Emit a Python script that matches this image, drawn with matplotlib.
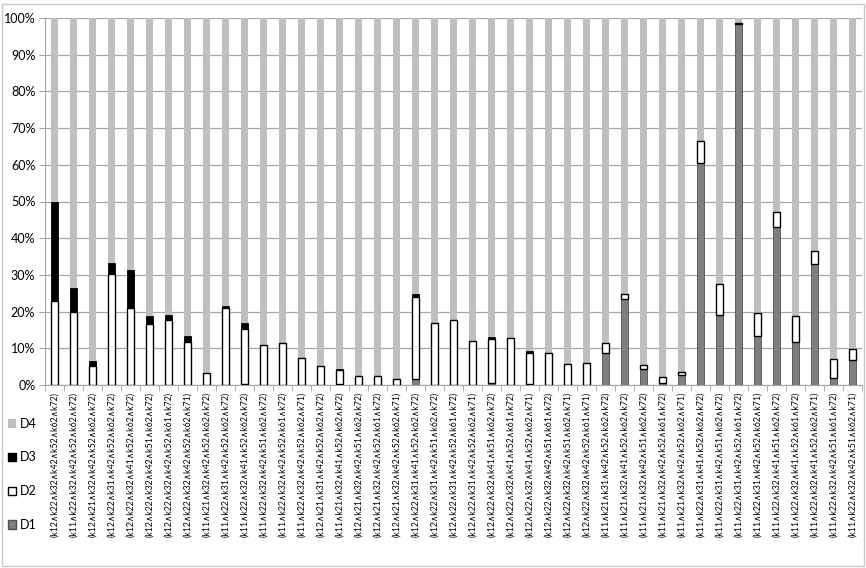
import matplotlib
matplotlib.use("Agg")
import matplotlib.pyplot as plt
import numpy as np
from matplotlib.patches import Rectangle, Patch

categories = [
    "(k12∧k22∧k32∧k42∧k52∧k62∧k72)",
    "(k11∧k22∧k32∧k42∧k52∧k62∧k72)",
    "(k12∧k21∧k32∧k42∧k52∧k62∧k72)",
    "(k12∧k22∧k31∧k42∧k52∧k62∧k72)",
    "(k12∧k22∧k32∧k41∧k52∧k62∧k72)",
    "(k12∧k22∧k32∧k42∧k51∧k62∧k72)",
    "(k12∧k22∧k32∧k42∧k52∧k61∧k72)",
    "(k12∧k22∧k32∧k42∧k52∧k62∧k71)",
    "(k11∧k21∧k32∧k42∧k52∧k62∧k72)",
    "(k11∧k22∧k31∧k42∧k52∧k62∧k72)",
    "(k11∧k22∧k32∧k41∧k52∧k62∧k72)",
    "(k11∧k22∧k32∧k42∧k51∧k62∧k72)",
    "(k11∧k22∧k32∧k42∧k52∧k61∧k72)",
    "(k11∧k22∧k32∧k42∧k52∧k62∧k71)",
    "(k12∧k21∧k31∧k42∧k52∧k62∧k72)",
    "(k11∧k21∧k32∧k41∧k52∧k62∧k72)",
    "(k12∧k21∧k32∧k42∧k51∧k62∧k72)",
    "(k12∧k21∧k32∧k42∧k52∧k61∧k72)",
    "(k12∧k21∧k32∧k42∧k52∧k62∧k71)",
    "(k12∧k22∧k31∧k41∧k52∧k62∧k72)",
    "(k12∧k22∧k31∧k42∧k51∧k62∧k72)",
    "(k12∧k22∧k31∧k42∧k52∧k61∧k72)",
    "(k12∧k22∧k31∧k42∧k52∧k62∧k71)",
    "(k12∧k22∧k32∧k41∧k51∧k62∧k72)",
    "(k12∧k22∧k32∧k41∧k52∧k61∧k72)",
    "(k12∧k22∧k32∧k41∧k52∧k62∧k71)",
    "(k12∧k22∧k32∧k42∧k51∧k61∧k72)",
    "(k12∧k22∧k32∧k42∧k51∧k62∧k71)",
    "(k12∧k22∧k32∧k42∧k52∧k61∧k71)",
    "(k11∧k21∧k31∧k42∧k52∧k62∧k72)",
    "(k11∧k21∧k32∧k41∧k52∧k62∧k72)",
    "(k11∧k21∧k32∧k42∧k51∧k62∧k72)",
    "(k11∧k21∧k32∧k42∧k52∧k61∧k72)",
    "(k11∧k21∧k32∧k42∧k52∧k62∧k71)",
    "(k11∧k22∧k31∧k41∧k52∧k62∧k72)",
    "(k11∧k22∧k31∧k42∧k51∧k62∧k72)",
    "(k11∧k22∧k31∧k42∧k52∧k61∧k72)",
    "(k11∧k22∧k31∧k42∧k52∧k62∧k71)",
    "(k11∧k22∧k32∧k41∧k51∧k62∧k72)",
    "(k11∧k22∧k32∧k41∧k52∧k61∧k72)",
    "(k11∧k22∧k32∧k41∧k52∧k62∧k71)",
    "(k11∧k22∧k32∧k42∧k51∧k61∧k72)",
    "(k11∧k22∧k32∧k42∧k51∧k62∧k71)",
]

# percentages
D1 = [0, 0, 0, 0, 0, 0, 0, 0, 0, 0, 0.3, 0, 0, 0,
      0, 0.2, 0, 0, 0, 1.7, 0, 0, 0, 0.6, 0, 0.4, 0, 0, 0,
      8.8, 23.3, 4.3, 0.6, 2.7, 60.6, 19.0, 98.5, 13.3, 43.0, 11.8, 32.9, 2.0, 6.7]
D2 = [23.0, 20.0, 5.1, 30.3, 21.0, 16.5, 17.8, 11.6, 3.2, 21.0, 14.9, 10.8, 11.5, 7.4,
      5.2, 3.8, 2.4, 2.4, 1.5, 22.3, 16.9, 17.8, 11.9, 12.0, 12.7, 8.4, 8.8, 5.6, 6.1,
      2.7, 1.5, 1.2, 1.6, 0.8, 5.9, 8.5, 0.2, 6.3, 4.2, 6.9, 3.5, 5.1, 3.2]
D3 = [27.0, 6.5, 1.4, 2.9, 10.4, 2.3, 1.2, 1.7, 0, 0.5, 1.8, 0.1, 0, 0,
      0, 0.4, 0, 0, 0, 0.9, 0, 0, 0, 0.4, 0.2, 0.4, 0, 0, 0,
      0, 0, 0, 0, 0, 0, 0, 0, 0, 0, 0, 0, 0, 0]
D4 = [100 - a - b - c for a, b, c in zip(D1, D2, D3)]
yticks = [0, 10, 20, 30, 40, 50, 60, 70, 80, 90, 100]
ytick_labels = [f"{v}%" for v in yticks]

plt.rcParams['font.family'] = ['Lato', 'DejaVu Sans']

fig = plt.figure(figsize=(8.66, 5.68), dpi=100)
ax = fig.add_axes([45 / 866, (568 - 385) / 568, (862 - 45) / 866, (385 - 18) / 568])

x = np.arange(len(categories))
w = 0.42
d1 = np.array(D1); d2 = np.array(D2); d3 = np.array(D3); d4 = np.array(D4)
ax.bar(x, d1, w, color='#7f7f7f', edgecolor='#505050', linewidth=0.6, zorder=3)
ax.bar(x, d2, w, bottom=d1, color='white', edgecolor='black', linewidth=1.0, zorder=3)
ax.bar(x, d3, w, bottom=d1 + d2, color='black', edgecolor='black', linewidth=0.6, zorder=3)
ax.bar(x, d4, w, bottom=d1 + d2 + d3, color='#bfbfbf', linewidth=0, zorder=2)

ax.set_xlim(-0.5, len(categories) - 0.5)
ax.set_ylim(0, 100)
ax.set_yticks(yticks)
ax.set_yticklabels(ytick_labels, fontsize=9)
ax.yaxis.grid(True, color='#a6a6a6', linewidth=0.9, zorder=0)
ax.set_axisbelow(True)
ax.set_xticks(x)
ax.set_xticklabels(categories, rotation=90, fontsize=6.3)
ax.set_xticks(np.arange(-0.5, len(categories), 1), minor=True)
ax.tick_params(axis='x', which='major', length=0, pad=5)
ax.tick_params(axis='x', which='minor', length=4, color='#a6a6a6', direction='out')
ax.tick_params(axis='y', length=4, color='#a6a6a6', direction='out', pad=3)
for s in ['top', 'right']:
    ax.spines[s].set_visible(False)
ax.spines['left'].set_color('#a6a6a6')
ax.spines['bottom'].set_color('#a6a6a6')

handles = [Patch(facecolor='#bfbfbf', edgecolor='none', label='D4'),
           Patch(facecolor='black', edgecolor='black', label='D3'),
           Patch(facecolor='white', edgecolor='black', label='D2'),
           Patch(facecolor='#7f7f7f', edgecolor='#505050', label='D1')]
fig.legend(handles=handles, loc='upper left', bbox_to_anchor=(0.0, (568 - 410) / 568),
           frameon=False, fontsize=9, labelspacing=1.75, handlelength=0.7,
           handleheight=0.7, handletextpad=0.3, borderaxespad=0.2)

fig.patches.append(Rectangle((2 / 866, 2 / 568), 862 / 866, 562 / 568, transform=fig.transFigure,
                             fill=False, edgecolor='#c8c8c8', linewidth=1.0))

fig.savefig('out.png', dpi=100)
